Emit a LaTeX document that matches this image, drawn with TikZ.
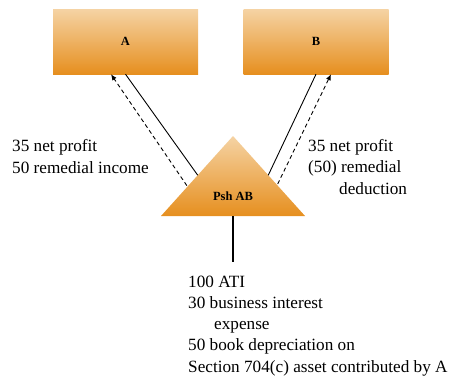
\documentclass[tikz,border=0pt]{standalone}
\usepackage{fontspec}
\setmainfont{Liberation Serif}
\usepackage{tikz}
\usetikzlibrary{arrows.meta,calc}
\definecolor{boxtop}{HTML}{F5D3A4}
\definecolor{boxbot}{HTML}{E68F1F}
\newcommand{\bodyfont}{\fontsize{17.2}{21.2}\selectfont}
\newcommand{\tagfont}{\fontsize{12.5}{14}\selectfont\bfseries}

\begin{document}
\begin{tikzpicture}[x=1pt,y=-1pt,
  entity/.style={minimum width=145pt,minimum height=65pt,inner sep=0pt,
    top color=boxtop,bottom color=boxbot,font=\tagfont},
  flow/.style={line width=0.9pt},
  alloc/.style={line width=0.9pt,dashed,dash pattern=on 4pt off 3pt,-{Latex[length=6pt,width=5pt]}},
  note/.style={font=\bodyfont,align=left,anchor=base west,inner sep=0pt}]
      \useasboundingbox (0,0) rectangle (452,375);
      % Partners
      \node[entity] (A) at (125.5,41.5) {A};
      \node[entity] (B) at (316,41.5) {B};
      % Partnership triangle
      \coordinate (apex) at (233,136);
      \coordinate (left) at (161,216);
      \coordinate (right) at (305,216);
      \coordinate (base) at (233,216);
      \shade[top color=boxtop,bottom color=boxbot] (apex) -- (right) -- (left) -- cycle;
      \node[font=\tagfont] (psh) at (233,196) {Psh AB};
      % Edges to partners
      \coordinate (aout) at ($(apex)!0.49!(left)$);
      \coordinate (ain) at ($(apex)!0.62!(left)+(-1.5,0)$);
      \coordinate (bout) at ($(apex)!0.49!(right)$);
      \coordinate (bin) at ($(apex)!0.60!(right)+(1.5,0)$);
      \draw[flow] (A.south) -- (aout);
      \draw[alloc] (ain) -- ([xshift=-14.5pt]A.south);
      \draw[flow] (B.south) -- (bout);
      \draw[alloc] (bin) -- ([xshift=15pt]B.south);
      % Edge down to the items
      \coordinate (stem) at (233,262);
      \draw[line width=1.2pt] (base) -- (stem);
      %
      % Labels (anchored at the last line):
      \node[note] (lleft) at (12,173) {35 net profit\\50 remedial income};
      \node[note] (lright) at (308,194) {35 net profit\\(50) remedial\\\hspace*{31pt}deduction};
      \node[note] (lbottom) at (188,372) {100 ATI\\30 business interest\\\hspace*{26pt}expense\\50 book depreciation on\\Section 704(c) asset contributed by A};
\end{tikzpicture}
\end{document}
